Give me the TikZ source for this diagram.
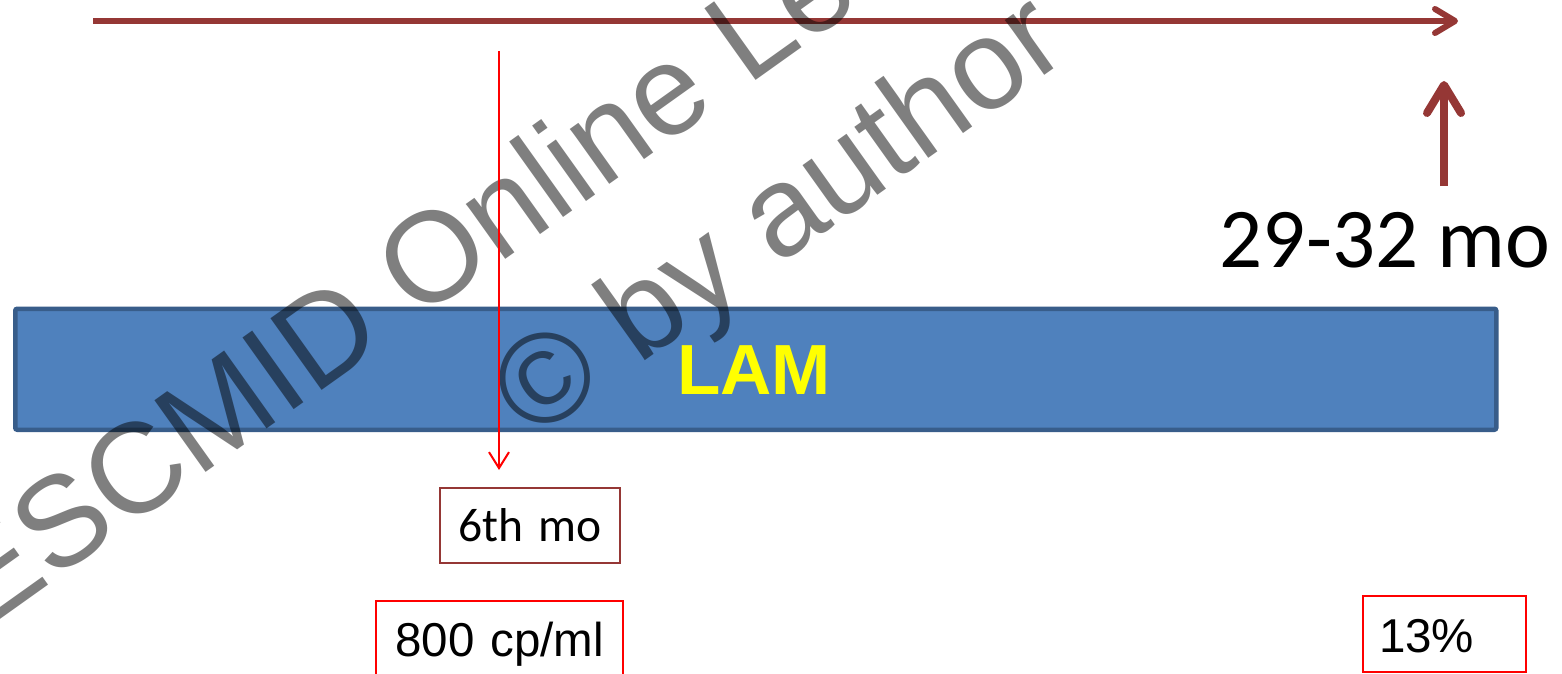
\documentclass[tikz,border=0pt]{standalone}
\usepackage{fontspec}
\setmainfont{Liberation Sans}
\newfontfamily\calib{Carlito}
\usetikzlibrary{arrows.meta}
\definecolor{darkred}{HTML}{953735}
\definecolor{barfill}{HTML}{4F81BD}
\definecolor{barline}{HTML}{385D8A}
\definecolor{lamyellow}{HTML}{FFFF00}
\begin{document}
\begin{tikzpicture}[x=1pt,y=-1pt,
  boxbase/.style={rectangle, line width=2pt, inner xsep=0pt, inner ysep=0pt, anchor=north west},
  redbox/.style={boxbase, draw=red, font=\fontsize{47.5}{57}\selectfont},
  brownbox/.style={boxbase, draw=darkred, font=\calib\fontsize{47.5}{57}\selectfont},
  wmark/.style={rotate=35.5, anchor=base, inner sep=0pt, text=black, text opacity=0.5,
    font=\fontsize{128}{154}\selectfont},
  timeline/.style={darkred, line width=6pt, -{Straight Barb[length=20pt,width=24pt,round]}},
  uparrow/.style={darkred, line width=8pt, -{Straight Barb[length=28pt,width=34pt,round]}},
  marker/.style={red, line width=2pt, -{Straight Barb[length=16pt,width=20pt]}}
]
\clip (0,0) rectangle (1562,674);
\fill[white] (0,0) rectangle (1562,674);

% blue bar
\node[rectangle, draw=barline, fill=barfill, line width=4.5pt, rounded corners=2pt,
  minimum width=1481pt, minimum height=121pt, inner sep=0pt, anchor=north west]
  (bar) at (13,306.5) {};
\node[anchor=base, inner sep=0pt, text=lamyellow, font=\bfseries\fontsize{71}{85}\selectfont]
  (lam) at (754,394) {LAM};

% top time line
\coordinate (tl) at (93,21);
\coordinate (tr) at (1458,21);
\draw[timeline] (tl) -- (tr);

% up arrow and label
\node[anchor=base, inner sep=0pt, font=\calib\fontsize{85}{100}\selectfont]
  (end) at (1385,267) {29-32 mo};
\coordinate (ub) at (1444,186);
\coordinate (ut) at (1444,81);
\draw[uparrow] (ub) -- (ut);

% watermark
\node[wmark] (wm1) at (713,111) {ESCMID Online Lecture Library};
\node[wmark] (wm2) at (802.5,248.5) {© by author};

% boxes
\node[brownbox, text width=180pt, text height=53pt, text depth=22pt, align=center]
  (six) at (439,487) {6th mo};
\node[redbox, text width=247pt, text height=55pt, text depth=45pt, align=center]
  (cp) at (375,600) {800 cp/ml};
\node[redbox, text width=131pt, inner xsep=16pt, text height=56pt, text depth=20pt, align=left]
  (pct) at (1362,595) {13\%};

% red marker arrow
\coordinate (rt) at (499,51);
\draw[marker, shorten >=17pt] (rt) -- (rt |- six.north);
\end{tikzpicture}
\end{document}
